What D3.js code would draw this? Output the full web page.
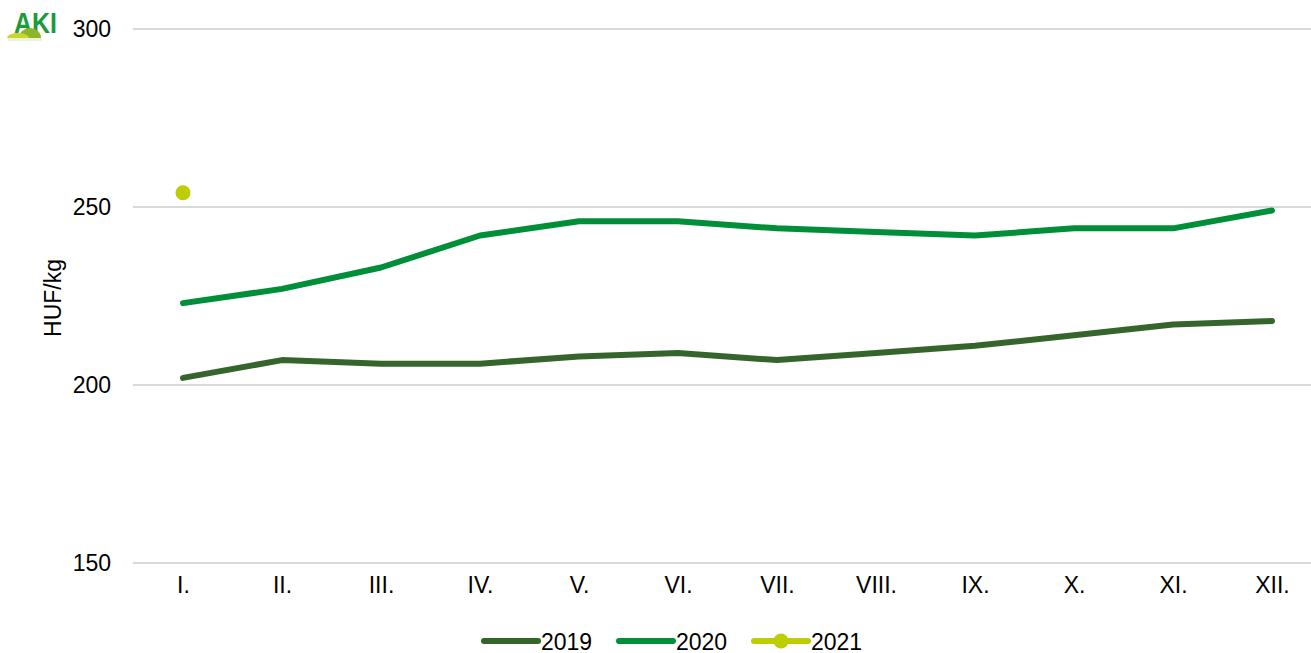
<!DOCTYPE html>
<html>
<head>
<meta charset="utf-8">
<script src="https://cdn.jsdelivr.net/npm/d3@7"></script>
<style>
  body { margin: 0; background: #fff; }
  svg { display: block; font-family: "Liberation Sans", Arial, sans-serif; }
</style>
</head>
<body>
<svg id="chart" width="1311" height="653"></svg>
<script>
// data
const months = ['I.', 'II.', 'III.', 'IV.', 'V.', 'VI.', 'VII.', 'VIII.', 'IX.', 'X.', 'XI.', 'XII.'];
const values2019 = [202, 207, 206, 206, 208, 209, 207, 209, 211, 214, 217, 218];
const values2020 = [223, 227, 233, 242, 246, 246, 244, 243, 242, 244, 244, 249];
const values2021 = [254];
const yTicks = [150, 200, 250, 300];

const series = [
  { name: '2019', values: values2019, color: '#35652d', marker: false },
  { name: '2020', values: values2020, color: '#008f39', marker: false },
  { name: '2021', values: values2021, color: '#bdcd00', marker: true }
];

const width = 1311, height = 653;
const fontSize = 23;
const svg = d3.select('#chart');

const x = d3.scalePoint().domain(months).range([133.5, 1321.5]).padding(0.5);
const y = d3.scaleLinear().domain([150, 300]).range([563, 29]);

/** gridlines */
svg.append('g')
  .selectAll('line')
  .data(yTicks)
  .join('line')
  .attr('x1', 133).attr('x2', width)
  .attr('y1', d => y(d)).attr('y2', d => y(d))
  .attr('stroke', '#d9d9d9')
  .attr('stroke-width', 2);

/** y axis labels */
const yAxis = svg.append('g')
  .attr('transform', 'translate(111,0)')
  .call(d3.axisLeft(y).tickValues(yTicks).tickSize(0).tickPadding(0));
yAxis.select('.domain').remove();
yAxis.selectAll('text').attr('font-size', fontSize).attr('fill', '#000').attr('font-family', '"Liberation Sans", Arial, sans-serif');

/** x axis labels */
const xAxis = svg.append('g')
  .attr('transform', 'translate(0,577)')
  .call(d3.axisBottom(x).tickSize(0).tickPadding(0));
xAxis.select('.domain').remove();
xAxis.selectAll('text').attr('font-size', fontSize).attr('fill', '#000').attr('font-family', '"Liberation Sans", Arial, sans-serif');

/** axis title */
svg.append('text')
  .attr('transform', 'translate(61,298) rotate(-90)')
  .attr('text-anchor', 'middle')
  .attr('font-size', fontSize)
  .text('HUF/kg');

/** lines */
const line = d3.line().x((d, i) => x(months[i])).y(d => y(d));
series.forEach(s => {
  if (s.values.length > 1) {
    svg.append('path')
      .datum(s.values)
      .attr('d', line)
      .attr('fill', 'none')
      .attr('stroke', s.color)
      .attr('stroke-width', 6)
      .attr('stroke-linejoin', 'round')
      .attr('stroke-linecap', 'round');
  }
  if (s.marker) {
    svg.append('g')
      .selectAll('circle')
      .data(s.values)
      .join('circle')
      .attr('cx', (d, i) => x(months[i]))
      .attr('cy', d => y(d))
      .attr('r', 7.5)
      .attr('fill', s.color);
  }
});

/** legend */
const legendX = [484, 619, 754];
const legend = svg.append('g').selectAll('g')
  .data(series)
  .join('g')
  .attr('transform', (d, i) => `translate(${legendX[i]},641)`);
legend.append('line')
  .attr('x1', 0).attr('x2', 54)
  .attr('stroke', d => d.color)
  .attr('stroke-width', 6)
  .attr('stroke-linecap', 'round');
legend.filter(d => d.marker).append('circle')
  .attr('cx', 27).attr('r', 7.5)
  .attr('fill', d => d.color);
legend.append('text')
  .attr('x', 57).attr('y', 8.5)
  .attr('font-size', fontSize)
  .text(d => d.name);

/** logo */
const logo = svg.append('g');
logo.append('text')
  .attr('x', 14).attr('y', 33)
  .attr('font-size', 29)
  .attr('font-weight', 'bold')
  .attr('textLength', 43)
  .attr('lengthAdjust', 'spacingAndGlyphs')
  .attr('fill', '#1c9b3a')
  .text('AKI');
logo.append('ellipse').attr('cx', 30).attr('cy', 38).attr('rx', 11).attr('ry', 10).attr('fill', '#8cb52a');
logo.append('ellipse').attr('cx', 18).attr('cy', 38).attr('rx', 11).attr('ry', 5).attr('fill', '#c9d62e');
logo.append('rect').attr('x', 0).attr('y', 38).attr('width', 60).attr('height', 12).attr('fill', '#fff');
logo.append('rect').attr('x', 8).attr('y', 38).attr('width', 34).attr('height', 3).attr('fill', '#eef3d8');
</script>
</body>
</html>
